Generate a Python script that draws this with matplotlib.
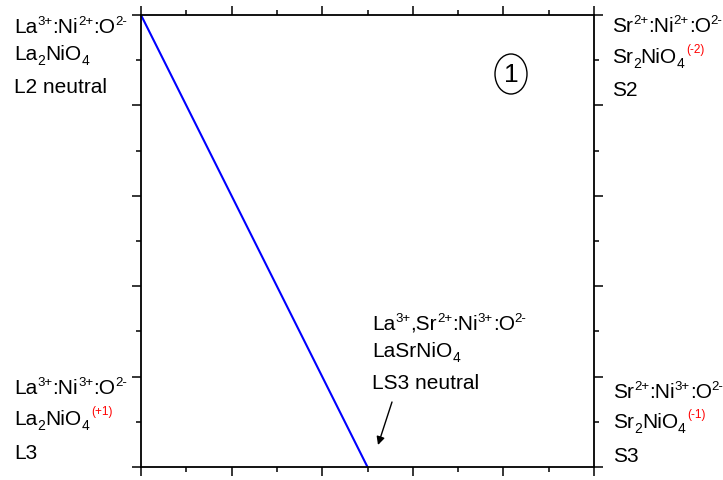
import re
import matplotlib
matplotlib.use("Agg")
import matplotlib.pyplot as plt
from matplotlib.ticker import MultipleLocator
from matplotlib.patches import Ellipse

plt.rcParams['font.family'] = ['Liberation Sans', 'DejaVu Sans']

# data
line_x = [0.0, 0.5]
line_y = [1.0, 0.0]

left_top = ["La^{3+}:Ni^{2+}:O^{2-}", "La_{2}NiO_{4}", "L2 neutral"]
left_bot = ["La^{3+}:Ni^{3+}:O^{2-}", "La_{2}NiO_{4}", "L3"]
right_top = ["Sr^{2+}:Ni^{2+}:O^{2-}", "Sr_{2}NiO_{4}", "S2"]
right_bot = ["Sr^{2+}:Ni^{3+}:O^{2-}", "Sr_{2}NiO_{4}", "S3"]
mid = ["La^{3+},Sr^{2+}:Ni^{3+}:O^{2-}", "LaSrNiO_{4}", "LS3 neutral"]
charge_left_bot = "(+1)"
charge_right_top = "(-2)"
charge_right_bot = "(-1)"
circle_label = "1"

W, H = 723, 480
fig = plt.figure(figsize=(7.23, 4.80), dpi=100)
ax = fig.add_axes([141/W, 1-467/H, (594-141)/W, (467-15)/H])
ax.set_xlim(0, 1)
ax.set_ylim(0, 1)
ax.plot(line_x, line_y, color='#0000ff', lw=1.5, solid_capstyle='butt', clip_on=False)

ax.xaxis.set_major_locator(MultipleLocator(0.2))
ax.xaxis.set_minor_locator(MultipleLocator(0.1))
ax.yaxis.set_major_locator(MultipleLocator(0.2))
ax.yaxis.set_minor_locator(MultipleLocator(0.1))
ax.tick_params(which='both', direction='out', top=True, right=True,
               labelbottom=False, labelleft=False, width=1.1)
ax.tick_params(which='major', length=6.5)
ax.tick_params(which='minor', length=3.5)
for s in ax.spines.values():
    s.set_linewidth(1.3)

fs = 15
sfs = 9.5
fig.canvas.draw()
renderer = fig.canvas.get_renderer()

def parse(s):
    out = []
    for tok in re.findall(r'\^\{[^}]*\}|_\{[^}]*\}|[^\^_]+', s):
        if tok.startswith('^{'):
            out.append((tok[2:-1], 'sup'))
        elif tok.startswith('_{'):
            out.append((tok[2:-1], 'sub'))
        else:
            out.append((tok, 'n'))
    return out

def rich(x, yb, s):
    cx = x
    for txt, kind in parse(s):
        if kind == 'n':
            size, dy = fs, 0
        elif kind == 'sup':
            size, dy = sfs, 8
        else:
            size, dy = sfs + 0.5, -5
        t = fig.text(cx / W, (H - yb + dy) / H, txt, fontsize=size,
                     va='baseline', ha='left')
        bb = t.get_window_extent(renderer)
        cx += bb.width
    return cx

def block(lines, x, baselines, charge=None):
    ends = [rich(x, yb, s) for s, yb in zip(lines, baselines)]
    if charge is not None:
        fig.text((ends[1] + 2) / W, (H - baselines[1] + 10) / H, charge,
                 fontsize=8.5, color='red', va='baseline', ha='left')

block(left_top, 14, [33, 60, 93])
block(left_bot, 14, [394, 425, 459], charge_left_bot)
block(right_top, 612, [32, 63, 96], charge_right_top)
block(right_bot, 613, [398, 428, 462], charge_right_bot)
block(mid, 372, [330, 357, 389])

def px(x, y):
    return x / W, 1 - y / H

# arrow
ax.annotate("", xy=px(378, 445), xycoords='figure fraction',
            xytext=px(392, 402), textcoords='figure fraction',
            arrowprops=dict(arrowstyle='-|>', color='black', lw=1.0,
                            mutation_scale=12, shrinkA=0, shrinkB=0))

# circled 1
cx, cy = px(511, 74)
fig.patches.append(Ellipse((cx, cy), 32 / W, 40 / H, transform=fig.transFigure,
                           fill=False, edgecolor='black', lw=1.0))
fig.text(cx, cy - 1 / H, circle_label, fontsize=19, ha='center', va='center')

fig.savefig("out.png", dpi=100)
